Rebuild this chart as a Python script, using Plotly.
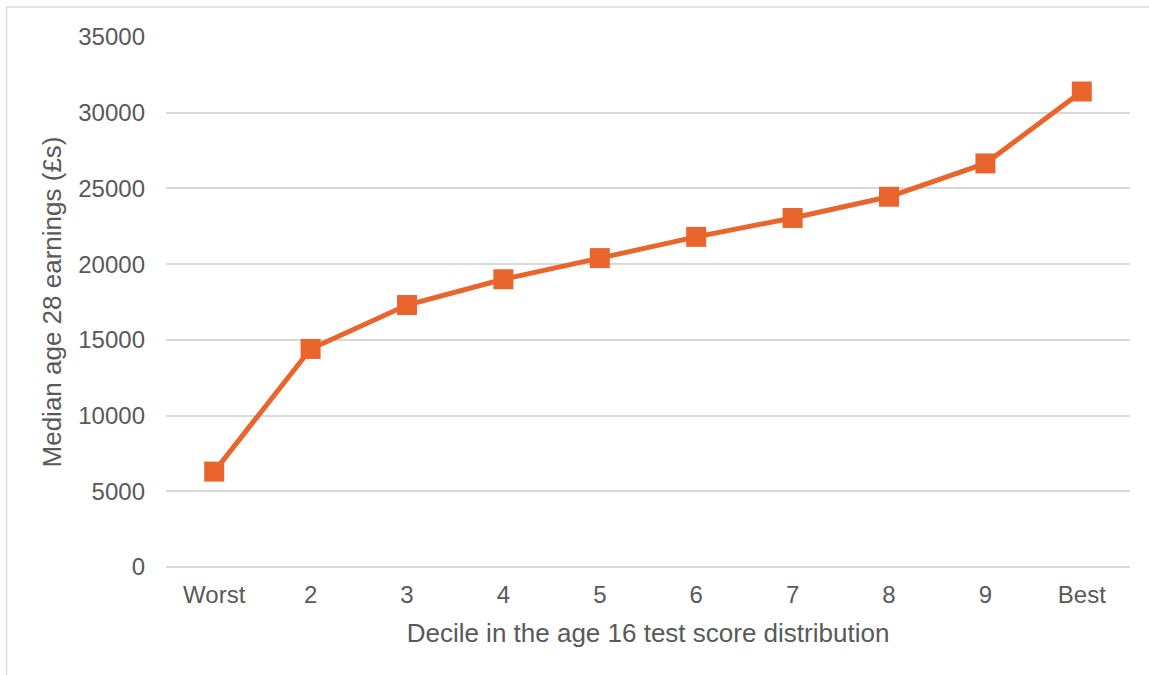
import plotly.graph_objects as go

categories = ["Worst", "2", "3", "4", "5", "6", "7", "8", "9", "Best"]
earnings = [6300, 14400, 17300, 19000, 20400, 21800, 23050, 24450, 26650, 31400]
y_ticks = [0, 5000, 10000, 15000, 20000, 25000, 30000, 35000]

W, H = 1149, 675
L, R, T, B = 166, 19, 37, 108
pw, ph = W - L - R, H - T - B

fig = go.Figure()
fig.add_trace(go.Scatter(
    x=list(range(len(categories))), y=earnings, mode="lines+markers",
    line=dict(color="#EA652D", width=5),
    marker=dict(symbol="square", size=20, color="#EA652D"),
    showlegend=False, hoverinfo="skip"))

fig.update_layout(
    width=W, height=H,
    margin=dict(l=L, r=R, t=T, b=B),
    paper_bgcolor="white", plot_bgcolor="white",
    font=dict(family="Liberation Sans, Arial, sans-serif", size=24, color="#595959"),
    xaxis=dict(tickmode="array", tickvals=list(range(len(categories))), ticktext=categories,
               range=[-0.5, len(categories) - 0.5], showgrid=False, zeroline=False,
               showline=False, ticks="", ticklen=0, tickfont=dict(size=24),
               ticklabelstandoff=11,
               title=dict(text="Decile in the age 16 test score distribution", standoff=16,
                          font=dict(size=26, color="#595959"))),
    yaxis=dict(tickmode="array", tickvals=y_ticks, ticktext=[str(v) for v in y_ticks],
               range=[0, 35000], tickfont=dict(size=24),
               showgrid=True, gridcolor="#D9D9D9", gridwidth=1.5,
               zeroline=True, zerolinecolor="#D9D9D9", zerolinewidth=1.5,
               showline=False, ticks="", ticklabelstandoff=20,
               title=dict(text="Median age 28 earnings (£s)", standoff=9,
                          font=dict(size=26, color="#595959"))),
    shapes=[
        dict(type="line", xref="paper", yref="paper",
             x0=(6.5 - L) / pw, x1=(6.5 - L) / pw, y0=(H - B - 7) / ph, y1=-0.3,
             line=dict(color="#D9D9D9", width=1.5)),
        dict(type="line", xref="paper", yref="paper",
             x0=(6.5 - L) / pw, x1=1.05, y0=(H - B - 7) / ph, y1=(H - B - 7) / ph,
             line=dict(color="#D9D9D9", width=1.5)),
    ],
)
fig.write_html("out.html", config={"displayModeBar": False},
               post_script="document.body.style.margin='0';document.body.style.overflow='hidden';")
